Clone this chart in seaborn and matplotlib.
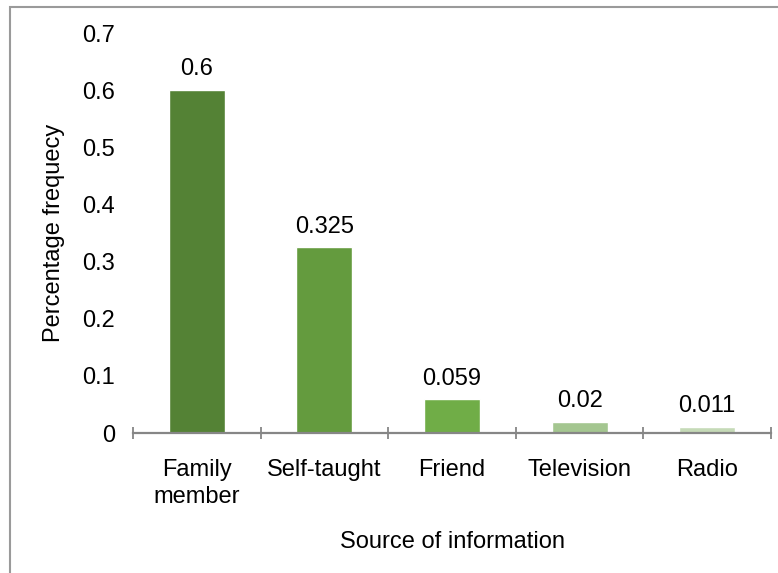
import matplotlib
matplotlib.use('Agg')
import matplotlib.pyplot as plt
from matplotlib.patches import Rectangle
import seaborn as sns
import pandas as pd

# Chart data
sources = ['Family\nmember', 'Self-taught', 'Friend', 'Television', 'Radio']
frequency = [0.6, 0.325, 0.059, 0.02, 0.011]
value_labels = ['0.6', '0.325', '0.059', '0.02', '0.011']
bar_colors = ['#548235', '#649b3e', '#70ad47', '#a4c690', '#c5dab7']
y_ticks = [0, 0.1, 0.2, 0.3, 0.4, 0.5, 0.6, 0.7]
y_tick_labels = ['0', '0.1', '0.2', '0.3', '0.4', '0.5', '0.6', '0.7']

df = pd.DataFrame({'Source': sources, 'Frequency': frequency})

sns.set_style('white')
plt.rcParams['font.family'] = ['Liberation Sans', 'DejaVu Sans']
plt.rcParams['text.color'] = 'black'
plt.rcParams['axes.labelcolor'] = 'black'
plt.rcParams['xtick.color'] = 'black'
plt.rcParams['ytick.color'] = 'black'

fig = plt.figure(figsize=(7.78, 5.73), dpi=100)
ax = fig.add_axes([133 / 778, 140 / 573, 638 / 778, 400 / 573])

sns.barplot(data=df, x='Source', y='Frequency', hue='Source', palette=bar_colors,
            width=0.44, legend=False, ax=ax, saturation=1)

for i, (v, lab) in enumerate(zip(frequency, value_labels)):
    ax.annotate(lab, (i, v), xytext=(0, 7), textcoords='offset points',
                ha='center', va='bottom', fontsize=17, color='black')

ax.set_ylim(0, 0.7)
ax.set_xlim(-0.5, 4.5)
ax.set_yticks(y_ticks)
ax.set_yticklabels(y_tick_labels, fontsize=17)
ax.tick_params(axis='y', length=0, pad=13)
ax.set_xticks(range(len(sources)))
ax.set_xticklabels(sources, fontsize=17, linespacing=1.3)
ax.tick_params(axis='x', which='major', length=0, pad=19)
ax.set_xticks([-0.5, 0.5, 1.5, 2.5, 3.5, 4.5], minor=True)
ax.tick_params(axis='x', which='minor', bottom=True, direction='inout', length=9,
               width=1.3, color='#868686')

for s in ['top', 'right', 'left']:
    ax.spines[s].set_visible(False)
ax.spines['bottom'].set_color('#868686')
ax.spines['bottom'].set_linewidth(1.6)

ax.set_ylabel('Percentage frequecy', fontsize=17, labelpad=12)
ax.set_xlabel('Source of information', fontsize=17, labelpad=16)

# outer frame of the chart area
fig.patches.append(Rectangle((10 / 778, -0.05), 1.2, (566 / 573) + 0.05,
                             transform=fig.transFigure, fill=False,
                             edgecolor='#9a9a9a', linewidth=1.5))

fig.savefig('out.png', dpi=100)
